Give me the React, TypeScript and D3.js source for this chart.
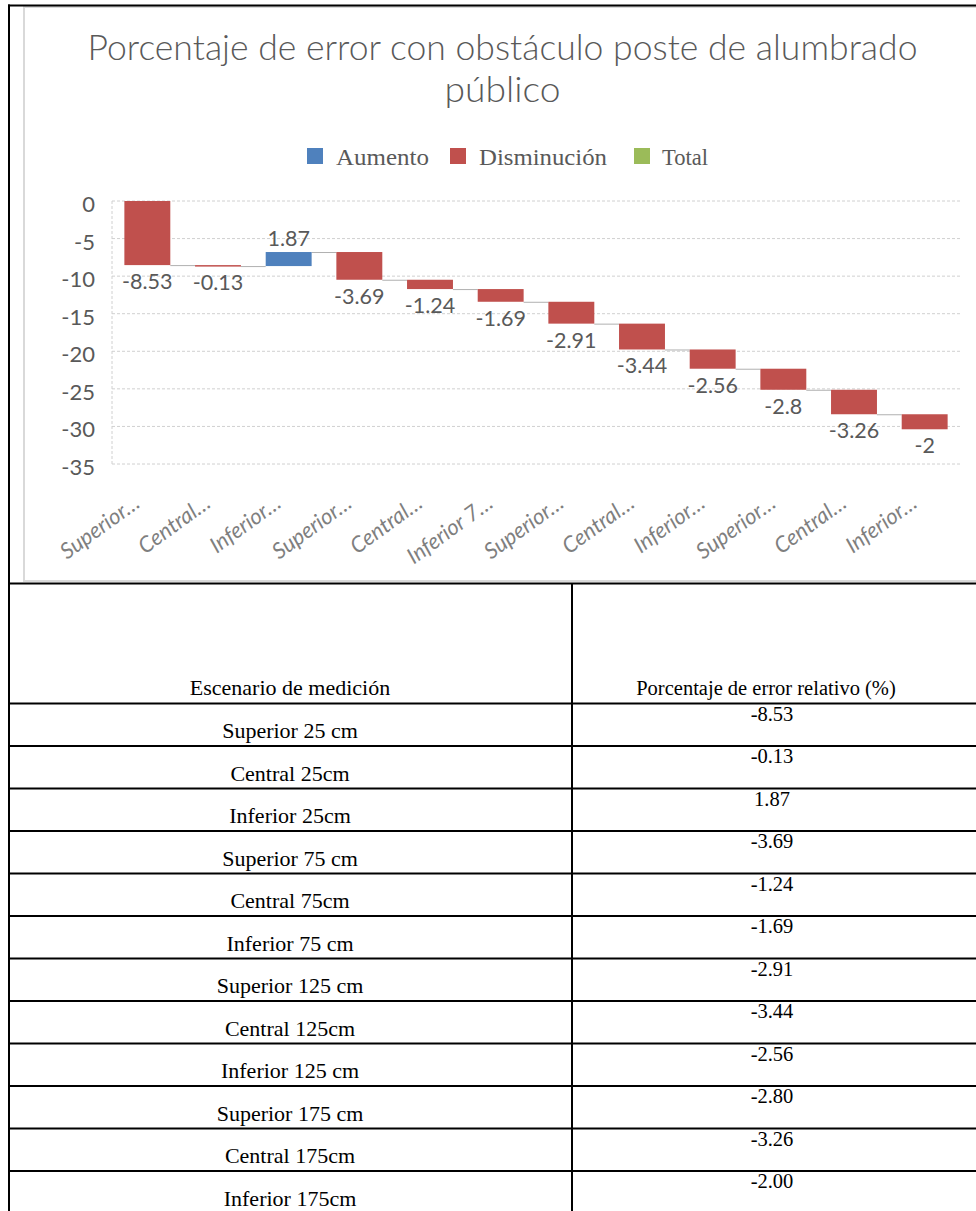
import React from "react";
import * as d3 from "d3";

const titleLines = ["Porcentaje de error con obstáculo poste de alumbrado", "público"];
const categories = [
  "Superior 25 cm", "Central 25cm", "Inferior 25cm",
  "Superior 75 cm", "Central 75cm", "Inferior 75 cm",
  "Superior 125 cm", "Central 125cm", "Inferior 125 cm",
  "Superior 175 cm", "Central 175cm", "Inferior 175cm",
];
const axisLabels = [
  "Superior…", "Central…", "Inferior…", "Superior…", "Central…", "Inferior 7…",
  "Superior…", "Central…", "Inferior…", "Superior…", "Central…", "Inferior…",
];
const values = [-8.53, -0.13, 1.87, -3.69, -1.24, -1.69, -2.91, -3.44, -2.56, -2.8, -3.26, -2.0];
const yTicks = [0, -5, -10, -15, -20, -25, -30, -35];
const legendItems = ["Aumento", "Disminución", "Total"];
const tableHeaders = ["Escenario de medición", "Porcentaje de error relativo (%)"];

const COLORS = { up: "#4F81BD", down: "#C0504D", total: "#9BBB59" };
const GRAY = "#595959";

export default function App() {
  const x = d3.scaleBand<string>().domain(categories).range([112, 960]).paddingInner(0.35).paddingOuter(0.175);
  const y = d3.scaleLinear().domain([-35, 0]).range([464, 201]);
  const bw = x.bandwidth();
  const cum = Array.from(d3.cumsum(values));
  const bars = values.map((v, i) => {
    const start = i === 0 ? 0 : cum[i - 1];
    const end = cum[i];
    return { cat: categories[i], v, start, end, top: Math.max(start, end), bottom: Math.min(start, end) };
  });

  const legendPos = [
    { key: 307, tx: 336, tl: 93 },
    { key: 450, tx: 479, tl: 128 },
    { key: 634, tx: 662, tl: 46 },
  ];
  const legendColors = [COLORS.up, COLORS.down, COLORS.total];

  const headerBottom = 703.5;
  const rowH = 42.5;
  const colDiv = 572;

  return (
    <svg width={976} height={1211} style={{ position: "absolute", left: 0, top: 0, display: "block", background: "#fff" }}>
      {/* chart frame */}
      <rect x={24} y={7} width={980} height={574} fill="#fff" stroke="#d9d9d9" strokeWidth={2} />
      {/* title */}
      <text x={502.5} y={60} textAnchor="middle" fontFamily="Lato, 'Open Sans', sans-serif" fontWeight={300}
        fontSize={35} fill={GRAY} textLength={830} lengthAdjust="spacingAndGlyphs">{titleLines[0]}</text>
      <text x={502.5} y={102} textAnchor="middle" fontFamily="Lato, 'Open Sans', sans-serif" fontWeight={300}
        fontSize={35} fill={GRAY} textLength={116} lengthAdjust="spacingAndGlyphs">{titleLines[1]}</text>
      {/* legend */}
      {legendItems.map((name, i) => (
        <g key={name}>
          <rect x={legendPos[i].key} y={148} width={16} height={16} fill={legendColors[i]} />
          <text x={legendPos[i].tx} y={164.5} fontFamily="'Liberation Serif', serif" fontSize={23} fill={GRAY}
            textLength={legendPos[i].tl} lengthAdjust="spacingAndGlyphs">{name}</text>
        </g>
      ))}
      {/* gridlines */}
      {yTicks.map((t) => (
        <line key={t} x1={112} x2={960} y1={y(t)} y2={y(t)} stroke="#d0d0d0" strokeWidth={1} strokeDasharray="3,2" />
      ))}
      <line x1={112} x2={112} y1={y(0)} y2={y(-35)} stroke="#d0d0d0" strokeWidth={1} strokeDasharray="3,2" />
      {/* y tick labels */}
      {yTicks.map((t) => (
        <text key={t} x={95} y={y(t) + 11} textAnchor="end" fontFamily="Lato, sans-serif" fontSize={22} fill={GRAY}>{t}</text>
      ))}
      {/* connectors */}
      {bars.slice(0, -1).map((b, i) => (
        <line key={i} x1={(x(b.cat) as number) + bw} x2={x(categories[i + 1]) as number}
          y1={y(b.end) + 0.5} y2={y(b.end) + 0.5} stroke="#b0b0b0" strokeWidth={1} />
      ))}
      {/* bars */}
      {bars.map((b) => (
        <rect key={b.cat} x={x(b.cat)} y={y(b.top)} width={bw} height={Math.max(1.5, y(b.bottom) - y(b.top))}
          fill={b.v >= 0 ? COLORS.up : COLORS.down} />
      ))}
      {/* data labels */}
      {bars.map((b) => (
        <text key={b.cat} x={(x(b.cat) as number) + bw / 2} y={b.v >= 0 ? y(b.top) - 6 : y(b.bottom) + 24}
          textAnchor="middle" fontFamily="Lato, sans-serif" fontSize={21.5} fill={GRAY}>{String(b.v)}</text>
      ))}
      {/* x labels */}
      {axisLabels.map((lab, i) => {
        const cx = (x(categories[i]) as number) + bw / 2;
        return (
          <text key={i} transform={`translate(${cx - 6},506) rotate(-36)`} textAnchor="end"
            fontFamily="Lato, sans-serif" fontStyle="italic" fontSize={22} fill="#7f7f7f">{lab}</text>
        );
      })}

      {/* outer document borders */}
      <line x1={8} x2={976} y1={5.5} y2={5.5} stroke="#000" strokeWidth={2} />
      <line x1={9} x2={9} y1={4.5} y2={1211} stroke="#000" strokeWidth={2} />
      {/* table */}
      <line x1={8} x2={976} y1={583.5} y2={583.5} stroke="#000" strokeWidth={2} />
      <line x1={colDiv} x2={colDiv} y1={583} y2={1211} stroke="#000" strokeWidth={2} />
      <text x={290} y={695} textAnchor="middle" fontFamily="'Liberation Serif', serif" fontSize={22} fill="#000">{tableHeaders[0]}</text>
      <text x={766} y={695} textAnchor="middle" fontFamily="'Liberation Serif', serif" fontSize={20.5} fill="#000">{tableHeaders[1]}</text>
      {categories.map((c, i) => {
        const top = headerBottom + i * rowH;
        return (
          <g key={c}>
            <line x1={8} x2={976} y1={top} y2={top} stroke="#000" strokeWidth={2} />
            <text x={290} y={top + 34.5} textAnchor="middle" fontFamily="'Liberation Serif', serif" fontSize={22} fill="#000">{c}</text>
            <text x={772} y={top + 17} textAnchor="middle" fontFamily="'Liberation Serif', serif" fontSize={20.5} fill="#000">{values[i].toFixed(2)}</text>
          </g>
        );
      })}
    </svg>
  );
}
